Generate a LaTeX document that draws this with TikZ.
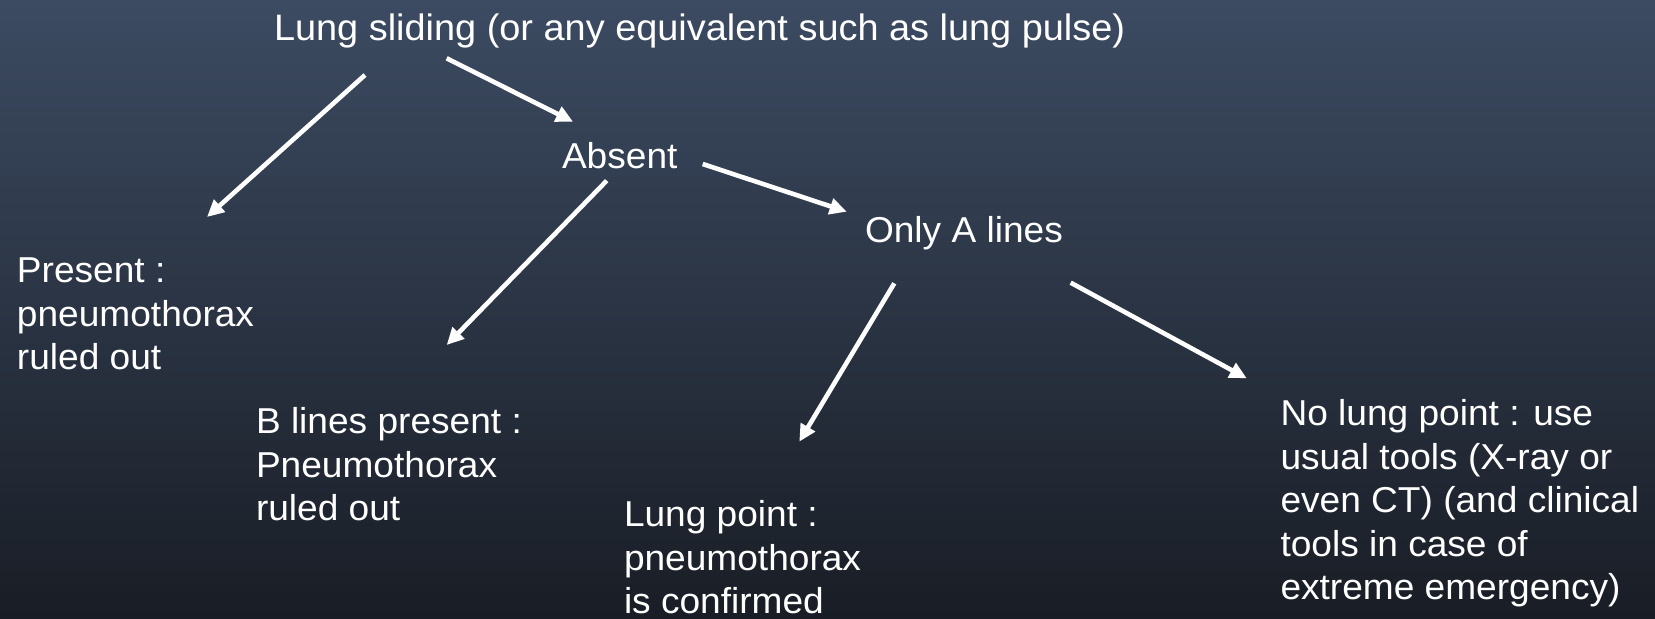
\documentclass[tikz,border=0pt]{standalone}
\usepackage{fontspec}
\setmainfont[FakeStretch=1.03]{Liberation Sans}
\usetikzlibrary{arrows.meta}
\definecolor{bgtop}{RGB}{60,75,98}
\definecolor{bgbot}{RGB}{25,29,37}
\newcommand\txtlines[1]{\begin{tabular}[t]{@{}l@{}}#1\end{tabular}}
\tikzset{
  lbl/.style={anchor=base west, inner sep=0pt, outer sep=0pt, text=white,
    font=\fontsize{18pt}{21.75pt}\selectfont},
  arr/.style={draw=white, line width=2.3pt,
    -{Triangle[length=8.5pt,width=8pt]}}
}
\begin{document}
\begin{tikzpicture}[x=0.5pt,y=-0.5pt]
\shade[top color=bgtop, bottom color=bgbot] (0,0) rectangle (1655,619);
\useasboundingbox (0,0) rectangle (1655,619);

\node[lbl, font=\fontsize{18.4pt}{21.75pt}\selectfont] (top) at (274,41) {Lung sliding (or any equivalent such as lung pulse)};
\node[lbl] (absent) at (562,168.5) {Absent};
\node[lbl] (onlya) at (865,242.7) {Only A lines};
\node[lbl] (present) at (17,283) {\txtlines{Present :\\pneumothorax\\ruled out}};
\node[lbl] (blines) at (256,434) {\txtlines{B lines present :\\Pneumothorax\\ruled out}};
\node[lbl] (lungpoint) at (624,527) {\txtlines{Lung point :\\pneumothorax\\is confirmed}};
\node[lbl] (nolung) at (1280.5,426) {\txtlines{No lung point : use\\usual tools (X-ray or\\even CT) (and clinical\\tools in case of\\extreme emergency)}};

\coordinate (s1) at (365,75);      \coordinate (e1) at (207,217);
\coordinate (s2) at (446.7,58.3);  \coordinate (e2) at (573,121.7);
\coordinate (s3) at (606.7,180.7); \coordinate (e3) at (446.7,345);
\coordinate (s4) at (702.7,164);   \coordinate (e4) at (846.7,211.7);
\coordinate (s5) at (894.3,283.3); \coordinate (e5) at (799.3,441.7);
\coordinate (s6) at (1070.7,282.7);\coordinate (e6) at (1246.7,378.3);

\draw[arr] (s1) -- (e1);
\draw[arr] (s2) -- (e2);
\draw[arr] (s3) -- (e3);
\draw[arr] (s4) -- (e4);
\draw[arr] (s5) -- (e5);
\draw[arr] (s6) -- (e6);
\end{tikzpicture}
\end{document}
